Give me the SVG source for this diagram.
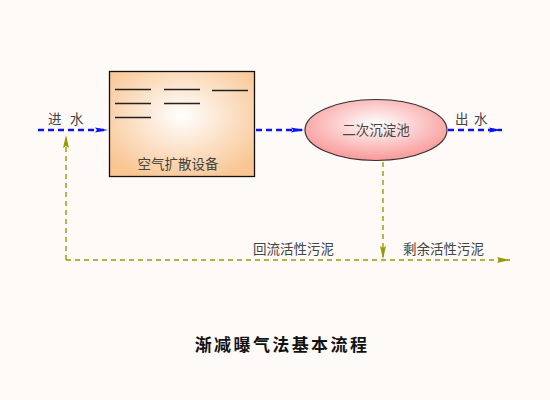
<svg xmlns="http://www.w3.org/2000/svg" width="550" height="400" viewBox="0 0 550 400">
<style>
.lbl{font-family:"Noto Sans CJK SC","Noto Sans",sans-serif;font-size:13.5px;fill:#444}
.blue{stroke:#0a14f0;stroke-width:2.5;stroke-dasharray:6,4;fill:none}
.green{stroke:#9a9a00;stroke-width:1.4;stroke-dasharray:5,4;fill:none}
.bar{stroke:#222;stroke-width:1.3}
</style>
<defs>
<radialGradient id="gBox" cx="0.5" cy="0.42" r="0.65">
<stop offset="0" stop-color="#ffffff"/>
<stop offset="0.25" stop-color="#fdf0e4"/>
<stop offset="1" stop-color="#f9c592"/>
</radialGradient>
<radialGradient id="gEll" cx="0.5" cy="0.4" r="0.62">
<stop offset="0" stop-color="#ffffff"/>
<stop offset="1" stop-color="#f99494"/>
</radialGradient>
<marker id="aBlue" markerWidth="14" markerHeight="8" refX="13" refY="4" orient="auto" markerUnits="userSpaceOnUse">
<path d="M0,1.5 L13,4 L0,6.5 L2,4 Z" fill="#0a14f0"/>
</marker>
<marker id="aGreen" markerWidth="14" markerHeight="8" refX="13" refY="4" orient="auto" markerUnits="userSpaceOnUse">
<path d="M0,1 L13,4 L0,7 L2,4 Z" fill="#9a9a00"/>
</marker>
</defs>
<rect width="550" height="400" fill="#fefaf7"/>
<g id="connectors">
<line class="blue" x1="38" y1="130" x2="108" y2="130" marker-end="url(#aBlue)"/>
<line class="blue" x1="256" y1="130" x2="304" y2="130" marker-end="url(#aBlue)"/>
<line class="blue" x1="448" y1="130" x2="502" y2="130" marker-end="url(#aBlue)"/>
<line class="green" x1="383" y1="162" x2="383" y2="259" marker-end="url(#aGreen)"/>
<line class="green" x1="66" y1="260" x2="510" y2="260" marker-end="url(#aGreen)"/>
<line class="green" x1="66" y1="260" x2="66" y2="135" marker-end="url(#aGreen)"/>
</g>
<g id="aeration">
<rect x="109.5" y="71.5" width="145" height="105" fill="url(#gBox)" stroke="#111" stroke-width="1.3"/>
<line class="bar" x1="115" y1="89.5" x2="151" y2="89.5"/>
<line class="bar" x1="164" y1="89.5" x2="200" y2="89.5"/>
<line class="bar" x1="212" y1="90.5" x2="248" y2="90.5"/>
<line class="bar" x1="115" y1="103.5" x2="151" y2="103.5"/>
<line class="bar" x1="164" y1="103.5" x2="200" y2="103.5"/>
<line class="bar" x1="115" y1="117.5" x2="151" y2="117.5"/>
<text class="lbl" x="178" y="169" text-anchor="middle">空气扩散设备</text>
</g>
<g id="clarifier">
<ellipse cx="376" cy="130" rx="71" ry="30.5" fill="url(#gEll)" stroke="#333" stroke-width="1.2"/>
<text class="lbl" x="376" y="135" text-anchor="middle">二次沉淀池</text>
</g>
<g id="labels">
<text class="lbl" x="48" y="124">进<tspan x="70">水</tspan></text>
<text class="lbl" x="455" y="124">出<tspan x="474">水</tspan></text>
<text class="lbl" x="253" y="254">回流活性污泥</text>
<text class="lbl" x="403" y="254">剩余活性污泥</text>
</g>
<text x="282" y="351" text-anchor="middle" font-family="Noto Sans CJK SC,sans-serif" font-weight="bold" font-size="17" letter-spacing="2.4" fill="#111">渐减曝气法基本流程</text>
</svg>
